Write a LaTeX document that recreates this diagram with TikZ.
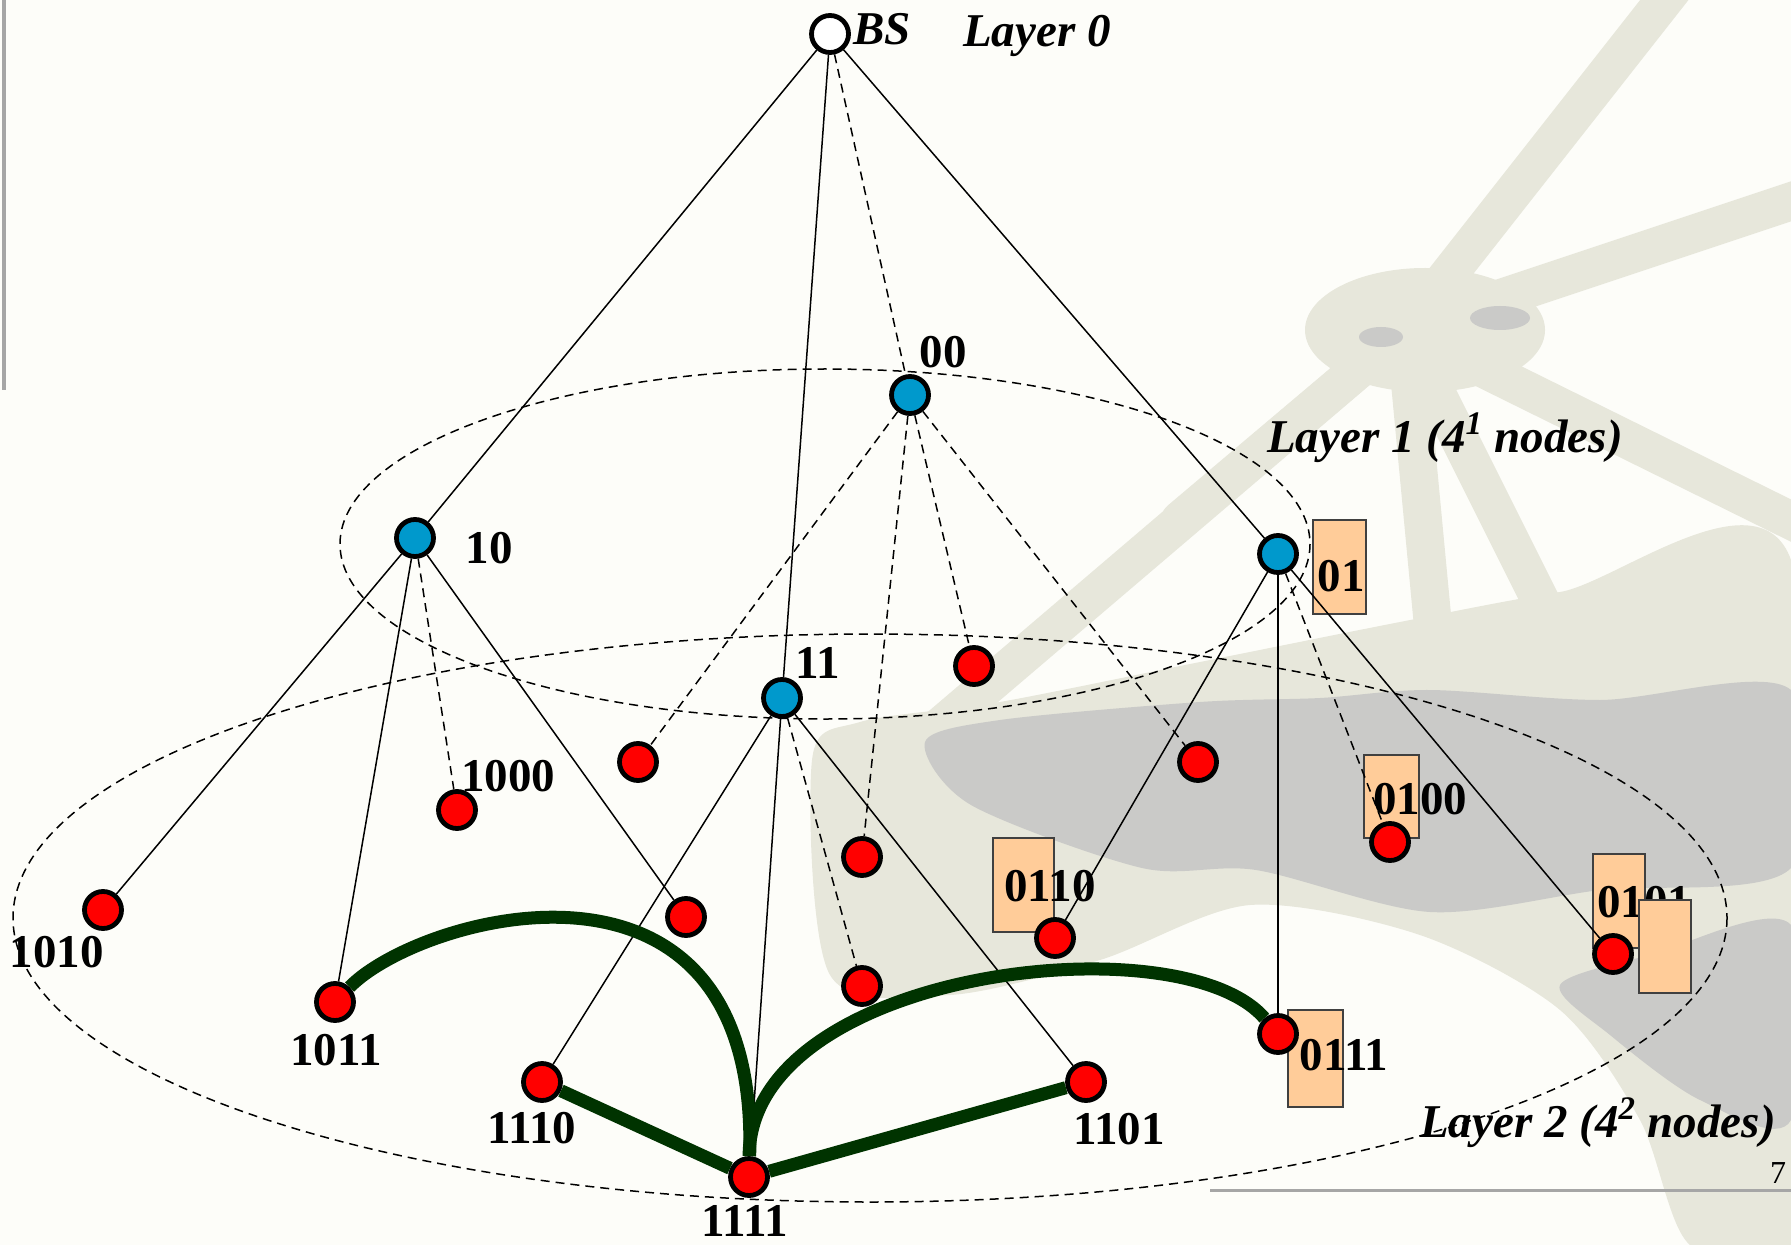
\documentclass[tikz,border=0pt]{standalone}
\usepackage{fontspec}
\setmainfont{Liberation Serif}
\usepackage{tikz}
\usetikzlibrary{graphs}
\definecolor{peach}{RGB}{255,204,153}
\definecolor{headblue}{RGB}{0,153,204}
\definecolor{linkgreen}{RGB}{0,51,0}
\definecolor{paper}{RGB}{253,253,249}
\definecolor{mapbeige}{RGB}{231,231,219}
\definecolor{mapgray}{RGB}{202,202,200}

\begin{document}
\begin{tikzpicture}[x=0.5pt, y=-0.5pt,
    sensor/.style={circle, draw, line width=2.4pt, inner sep=0pt, minimum size=18.5pt, fill=red},
    head/.style={sensor, fill=headblue},
    sink/.style={sensor, fill=white},
    tag/.style={draw=black!75, line width=0.6pt, fill=peach, inner sep=0pt},
    addr/.style={font=\fontsize{23.5}{28}\selectfont\bfseries, inner sep=0pt},
    layer/.style={font=\fontsize{23.5}{28}\selectfont\bfseries\itshape, inner sep=0pt},
    hop/.style={line width=0.75pt, dash pattern=on 4.5pt off 3pt},
    spoke/.style={draw=mapbeige, line width=19pt, line cap=round},
    trunk/.style={line width=6.5pt, draw=linkgreen}]
    \useasboundingbox (0,0) rectangle (1791,1245);
    \fill[paper] (0,0) rectangle (1791,1245);

    \fill[mapbeige] plot[smooth cycle] coordinates {(812,760) (860,722) (1000,702) (1200,662)
        (1400,622) (1560,592) (1791,560) (1791,1245) (1690,1245) (1640,1120) (1560,1010)
        (1420,935) (1250,905) (1100,960) (950,995) (830,975)};
    \foreach \tip in {(1680,-20), (1810,195), (1810,530), (1560,640), (1440,700), (1180,520), (930,735)}
        \draw[spoke] (1405,330) -- \tip;
    \fill[mapbeige] (1425,330) ellipse [x radius=120, y radius=62];
    \fill[mapgray] (1381,337) ellipse [x radius=22, y radius=10];
    \fill[mapgray] (1500,318) ellipse [x radius=30, y radius=12];
    \fill[mapgray] plot[smooth cycle] coordinates {(925,742) (1000,720) (1200,702) (1320,698)
        (1430,690) (1600,700) (1791,690) (1791,868) (1600,890) (1430,912) (1256,870)
        (1142,868) (971,805)};
    \fill[mapgray] plot[smooth cycle] coordinates {(1560,985) (1650,955) (1791,925) (1791,1120)
        (1700,1100) (1610,1035)};
    \draw[gray!70, line width=2pt] (4,0) -- (4,390);
    \draw[gray!70, line width=1.5pt] (1210,1190) -- (1791,1190);
    \node[font=\fontsize{16}{18}\selectfont, inner sep=0pt] (page) at (1778,1173) {7};

    \draw[hop] (825,544) ellipse [x radius=485, y radius=175];
    \draw[hop] (870,918) ellipse [x radius=857, y radius=284];

    \node[tag, minimum width=26.5pt, minimum height=47pt] (tag01) at (1339.5,567) {};
    \node[tag, minimum width=27.5pt, minimum height=41.5pt] (tag0100) at (1391.5,796.5) {};
    \node[tag, minimum width=30.5pt, minimum height=47pt] (tag0110) at (1023.5,885) {};
    \node[tag, minimum width=27.5pt, minimum height=48.5pt] (tag0111) at (1315.5,1058.5) {};
    \node[tag, minimum width=26pt, minimum height=47pt] (tag0101) at (1619,901) {};

    \node[layer] (l0) at (1037,36) {Layer 0};
    \node[layer] (l1) at (1445,438) {Layer 1 (4\textsuperscript{1} nodes)};
    \node[layer] (l2) at (1598,1123) {Layer 2 (4\textsuperscript{2} nodes)};
    \node[layer] (lbs) at (882,29) {BS};
    \node[addr] (l00) at (943,352) {00};
    \node[addr] (l10) at (489,548) {10};
    \node[addr] (l11) at (818,663) {11};
    \node[addr] (l01) at (1341,576) {01};
    \node[addr] (l1000) at (508,776) {1000};
    \node[addr] (l1010) at (57,952) {1010};
    \node[addr] (l1011) at (336,1050) {1011};
    \node[addr] (l1110) at (532,1128) {1110};
    \node[addr] (l1111) at (745,1221) {1111};
    \node[addr] (l1101) at (1119,1129) {1101};
    \node[addr] (l0110) at (1050,886) {0110};
    \node[addr] (l0100) at (1420,799) {0100};
    \node[addr] (l0111) at (1344,1055) {0111};
    \node[addr] (l0101) at (1644,902) {0101};
    \node[tag, minimum width=26pt, minimum height=46.5pt] (tag0101b) at (1665,946.5) {};

    \node[sink] (bs) at (830,34) {};
    \node[head] (n00) at (910,395) {};
    \node[head] (n10) at (415,538) {};
    \node[head] (n11) at (782,698) {};
    \node[head] (n01) at (1278,554) {};
    \node[sensor] (n0000) at (638,762) {};
    \node[sensor] (n0001) at (862,857) {};
    \node[sensor] (n0010) at (974,666) {};
    \node[sensor] (n0011) at (1198,762) {};
    \node[sensor] (n1000) at (457,810) {};
    \node[sensor] (n1001) at (686,917) {};
    \node[sensor] (n1010) at (103,910) {};
    \node[sensor] (n1011) at (335,1002) {};
    \node[sensor] (n1100) at (862,986) {};
    \node[sensor] (n1101) at (1086,1082) {};
    \node[sensor] (n1110) at (542,1082) {};
    \node[sensor] (n1111) at (749,1177) {};
    \node[sensor] (n0100) at (1390,842) {};
    \node[sensor] (n0101) at (1613,954) {};
    \node[sensor] (n0110) at (1055,938) {};
    \node[sensor] (n0111) at (1278,1034) {};

    \begin{scope}[line width=0.75pt]
    \graph{
    (bs) -- (n10); (bs) -- (n11); (bs) -- (n01);
    (bs) --[hop] (n00);

    (n10) -- (n1010); (n10) -- (n1011); (n10) -- (n1001);
    (n10) --[hop] (n1000);

    (n00) --[hop] (n0000); (n00) --[hop] (n0001);
    (n00) --[hop] (n0010); (n00) --[hop] (n0011);

    (n11) -- (n1110); (n11) -- (n1111); (n11) -- (n1101);
    (n11) --[hop] (n1100);

    (n01) -- (n0110); (n01) -- (n0111); (n01) -- (n0101);
    (n01) --[hop] (n0100);
    };
    \end{scope}

    \draw[trunk] (n1011) .. controls (420,915) and (760,820) .. (n1111);
    \draw[trunk] (n1111) .. controls (750,970) and (1180,920) .. (n0111);
    \draw[trunk] (n1110) -- (n1111) -- (n1101);
\end{tikzpicture}
\end{document}
